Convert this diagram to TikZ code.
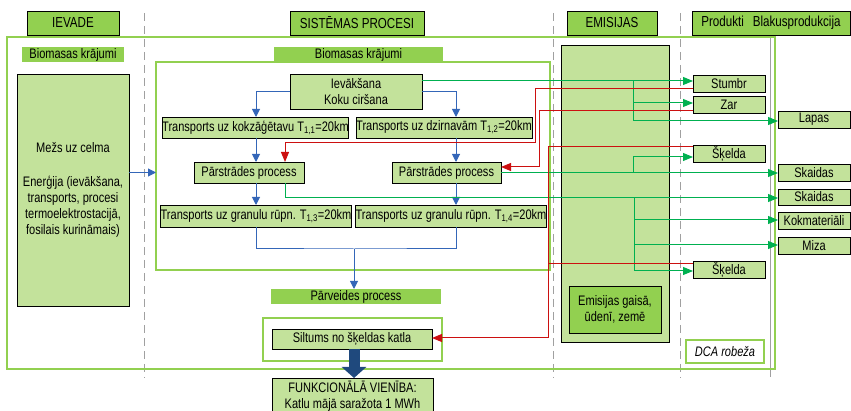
\documentclass[tikz,border=0pt]{standalone}
\usepackage{fontspec}
\setmainfont[FakeStretch=0.8]{Liberation Sans}
\usetikzlibrary{arrows.meta,calc}

\definecolor{hdrgreen}{RGB}{146,208,80}
\definecolor{boxgreen}{RGB}{195,226,155}
\definecolor{flowblue}{RGB}{52,102,184}
\definecolor{flowred}{RGB}{204,16,16}
\definecolor{flowgreen}{RGB}{0,176,80}
\definecolor{sepgray}{RGB}{160,160,160}
\definecolor{bigblue}{RGB}{31,73,125}

% box from corner (x1,y1) to corner (x2,y2)
\newcommand{\placebox}[7][]{%
  \node[#1, minimum width={#5-#3}, minimum height={#6-#4}] (#2)
    at ({(#3+#5)/2},{(#4+#6)/2}) {#7};}

\begin{document}
\begin{tikzpicture}[x=1pt,y=-1pt,
  txt/.style={font=\fontsize{13.8}{16}\selectfont},
  hdr/.style={draw=black, fill=hdrgreen, line width=0.9pt, inner sep=0pt, outer sep=0pt,
              font=\fontsize{14.5}{16}\selectfont},
  lbox/.style={draw=black, fill=boxgreen, line width=0.9pt, inner sep=0pt, outer sep=0pt, txt},
  dbox/.style={draw=black, fill=hdrgreen, line width=0.9pt, inner sep=0pt, outer sep=0pt, txt},
  tag/.style={fill=hdrgreen, inner sep=0pt, outer sep=0pt, txt},
  frame/.style={draw=hdrgreen, line width=1.6pt},
  sep/.style={draw=sepgray, line width=1pt, dash pattern=on 8pt off 5pt},
  blu/.style={draw=flowblue, line width=1pt, -{Triangle[width=8pt,length=8pt]}},
  blun/.style={draw=flowblue, line width=1pt},
  grn/.style={draw=flowgreen, line width=1pt, -{Triangle[width=8pt,length=10pt]}},
  grnn/.style={draw=flowgreen, line width=1pt},
  rd/.style={draw=flowred, line width=1pt, -{Triangle[width=8pt,length=10pt]}},
  rdn/.style={draw=flowred, line width=1pt},
]
\useasboundingbox (0,0) rectangle (851,411);

% column separators
\draw[sep] (144,13) -- (144,378);
\draw[sep] (553,13) -- (553,378);
\draw[sep] (680,13) -- (680,378);
\draw[sepgray, line width=1pt] (770,37) -- (770,377);

% column headers
\placebox[hdr]{hIn}{27}{11}{119}{35}{IEVADE}
\placebox[hdr]{hSys}{290}{11}{424}{35}{SISTĒMAS PROCESI}
\placebox[hdr]{hEm}{567}{11}{657}{35}{EMISIJAS}
\placebox[hdr]{hOut}{692}{11}{850}{35}{Produkti\hspace{9pt}Blakusprodukcija}

% system boundary and process frames
\draw[frame] (7,37) rectangle (775,369);
\draw[frame] (156,62) rectangle (550,270);
\draw[frame] (263,318) rectangle (442,361);
\placebox[draw=hdrgreen, line width=1.6pt, fill=white, inner sep=0pt,
  font=\fontsize{13.8}{16}\selectfont\itshape]{dca}{686}{340}{764}{363}{DCA robeža}

% input column
\placebox[tag]{bioL}{22}{47}{124}{62}{Biomasas krājumi}
\placebox[lbox, align=center]{mezs}{17}{74}{129}{306}{Mežs uz celma\\[18pt]Enerģija (ievākšana,\\transports, procesi\\termoelektrostacijā,\\fosilais kurināmais)}

% system processes
\placebox[tag]{bioS}{274}{47}{443}{62}{Biomasas krājumi}
\placebox[lbox, align=center]{ievak}{290}{74}{422}{109}{Ievākšana\\Koku ciršana}
\placebox[lbox]{t11}{163}{117}{348}{138}{Transports uz kokzāģētavu T\textsubscript{1,1}=20km}
\placebox[lbox]{t12}{356}{117}{532}{138}{Transports uz dzirnavām T\textsubscript{1,2}=20km}
\placebox[lbox]{pl}{194}{162}{304}{183}{Pārstrādes process}
\placebox[lbox]{pr}{392}{162}{501}{183}{Pārstrādes process}
\placebox[lbox]{t13}{163}{205}{349}{227}{Transports uz granulu rūpn. T\textsubscript{1,3}=20km}
\placebox[lbox]{t14}{357}{205}{545}{227}{Transports uz granulu rūpn. T\textsubscript{1,4}=20km}
\placebox[tag]{parv}{271}{289}{441}{304}{Pārveides process}
\placebox[lbox]{silt}{272}{329}{432}{349}{Siltums no šķeldas katla}
\placebox[lbox, align=center]{func}{272}{378}{433}{415}{FUNKCIONĀLĀ VIENĪBA:\\Katlu mājā saražota 1 MWh}

% emissions column
\placebox[lbox]{emis}{561}{45}{669}{342}{}
\placebox[dbox, align=center]{emin}{569}{286}{661}{333}{Emisijas gaisā,\\ūdenī, zemē}

% products and by-products
\placebox[lbox]{stumbr}{693}{75}{765}{92}{Stumbr}
\placebox[lbox]{zar}{693}{96}{765}{113}{Zar}
\placebox[lbox]{skA}{693}{145}{765}{162}{Šķelda}
\placebox[lbox]{skB}{693}{261}{765}{278}{Šķelda}
\placebox[lbox]{lapas}{778}{111}{850}{128}{Lapas}
\placebox[lbox]{skaidA}{778}{164}{850}{181}{Skaidas}
\placebox[lbox]{skaidB}{778}{189}{850}{205}{Skaidas}
\placebox[lbox]{kok}{778}{212}{850}{229}{Kokmateriāli}
\placebox[lbox]{miza}{778}{237}{850}{254}{Miza}

% flow columns and bends
\coordinate (lx) at (256,0);
\coordinate (rx) at (456,0);
\coordinate (gx) at (285,0);
\coordinate (mid) at (354,249);

% material flow (blue)
\draw[blu] (mezs.east |- pl) -- (156,172.5);
\draw[blu] (ievak.west) -| (t11.north -| lx);
\draw[blu] (ievak.east) -| (t12.north -| rx);
\draw[blu] (t11.south -| lx) -- (pl.north -| lx);
\draw[blu] (t12.south -| rx) -- (pr.north -| rx);
\draw[blu] (pl.south -| lx) -- (t13.north -| lx);
\draw[blu] (pr.south -| rx) -- (t14.north -| rx);
\draw[blun] (t13.south -| lx) |- (mid) -| (t14.south -| rx);
\draw[blu] (mid) -- (parv.north -| mid);

% by-product flow (green)
\coordinate (gA) at (633,81);
\coordinate (gB) at (633,103);
\coordinate (gC) at (633,121);
\coordinate (gD) at (633,173);
\coordinate (gE) at (633,157);
\coordinate (gF) at (634,198);
\coordinate (gG) at (634,220);
\coordinate (gH) at (634,245);
\coordinate (gI) at (634,271);
\draw[grn] (ievak.east |- gA) -- (stumbr.west |- gA);
\draw[grnn] (gA) -- (gC);
\draw[grn] (gB) -- (zar.west |- gB);
\draw[grn] (gC) -- (lapas.west |- gC);
\draw[grn] (pr.east |- gD) -- (skaidA.west |- gD);
\draw[grn] (gD) |- (skA.west |- gE);
\draw[grn] (pl.south -| gx) |- (skaidB.west |- gF);
\draw[grnn] (gF) -- (gI);
\draw[grn] (gG) -- (kok.west |- gG);
\draw[grn] (gH) -- (miza.west |- gH);
\draw[grn] (gI) -- (skB.west |- gI);

% return flow (red)
\coordinate (rA) at (535,89);
\coordinate (rB) at (535,143);
\coordinate (rC) at (539,111);
\coordinate (rD) at (539,167);
\coordinate (rE) at (548,147);
\coordinate (rF) at (548,338);
\coordinate (rG) at (548,264);
\draw[rd] (stumbr.west |- rA) -- (rA) -- (rB) -| (pl.north -| gx);
\draw[rd] (zar.west |- rC) -- (rC) -- (rD) -- (pr.east |- rD);
\draw[rd] (skA.west |- rE) -- (rE) -- (rF) -- (silt.east |- rF);
\draw[rdn] (skB.west |- rG) -- (rG);

% functional unit
\draw[bigblue, line width=11pt, -{Triangle[width=24pt,length=11pt]}]
  (silt.south -| mid) -- (func.north -| mid);
\end{tikzpicture}
\end{document}
